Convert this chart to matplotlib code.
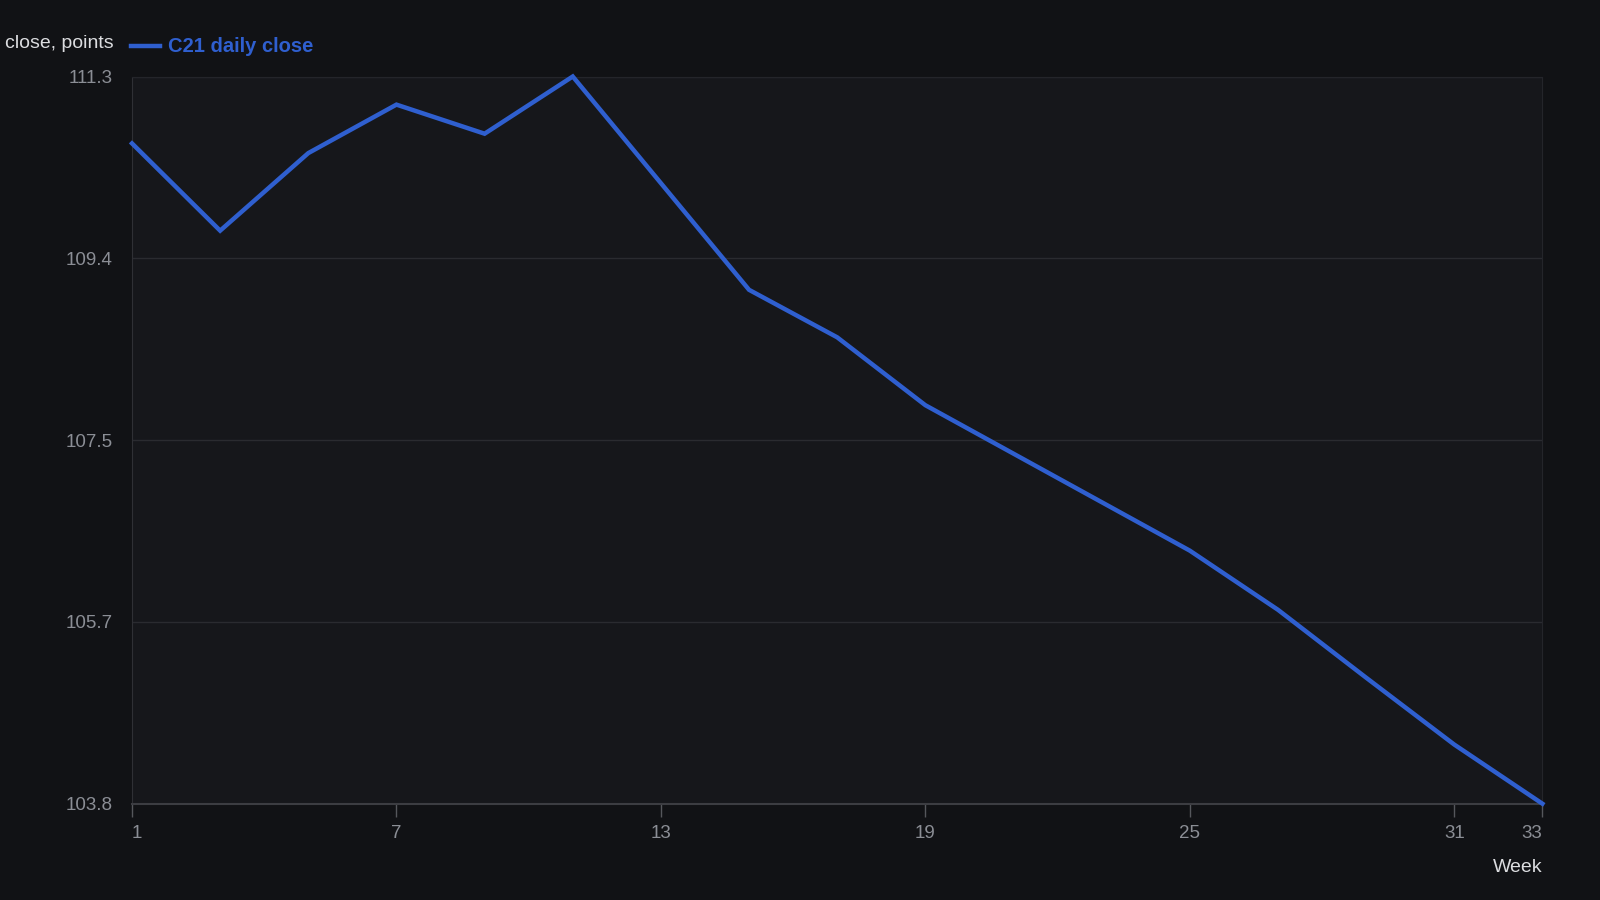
import numpy as np
import matplotlib
matplotlib.use("Agg")
import matplotlib.pyplot as plt

# weekly readings of the C21 daily close (points)
weeks = [1, 3, 5, 7, 9, 11, 13, 15, 17, 19, 21, 23, 25, 27, 29, 31, 33]
close = [110.61, 109.71, 110.51, 111.01, 110.71, 111.30, 110.20, 109.10, 108.61,
         107.91, 107.41, 106.91, 106.41, 105.80, 105.10, 104.41, 103.80]
ytick_vals = [103.8, 105.675, 107.55, 109.425, 111.3]
ytick_labels = ["103.8", "105.7", "107.5", "109.4", "111.3"]
xtick_vals = [1, 7, 13, 19, 25, 31, 33]

series_name = "C21 daily close"
y_title = "C21 daily close, points"
x_title = "Week"

bg = "#111215"
plot_bg = "#16171b"
line_col = "#2f5fcf"
tick_col = "#8b8e95"

plt.rcParams['font.family'] = ['Liberation Sans', 'DejaVu Sans']

fig = plt.figure(figsize=(16, 9), dpi=100, facecolor=bg)
ax = fig.add_axes([0.0825, 0.107, 0.8815, 0.808])
ax.set_facecolor(plot_bg)

ax.plot(weeks, close, color=line_col, lw=3.2, solid_joinstyle="miter", clip_on=False, zorder=3)

ax.set_xlim(1, 33)
ax.set_ylim(103.8, 111.3)
ax.set_yticks(ytick_vals)
ax.set_yticklabels(ytick_labels)
ax.set_xticks(xtick_vals)

ax.grid(axis="y", color="#2a2b30", lw=1)
ax.tick_params(axis="y", length=0, pad=14, labelsize=13.5, labelcolor=tick_col)
ax.tick_params(axis="x", length=9, width=1, color="#55575c", pad=6, labelsize=13.5, labelcolor=tick_col)

## first / last week labels are pulled inside the axis ends
xlabels = ax.get_xticklabels()
xlabels[0].set_ha("left")
xlabels[-1].set_ha("right")

for side in ["top", "right"]:
    ax.spines[side].set_color("#24252a")
ax.spines["left"].set_color("#2f3035")
ax.spines["bottom"].set_color("#3c3d42")
ax.spines["bottom"].set_linewidth(1.5)

# y axis title sits at the top-left, partly cut by the figure edge
fig.text(114 / 1600, 1 - 44 / 900, y_title, ha="right", va="center",
         fontsize=14, color="#dcdde0")

# legend: short line + bold series name
fig.add_artist(plt.Line2D([131 / 1600, 160 / 1600], [1 - 46 / 900, 1 - 46 / 900],
                          color=line_col, lw=3.2))
fig.text(168 / 1600, 1 - 46 / 900, series_name, ha="left", va="center",
         fontsize=14.5, fontweight="bold", color=line_col)

fig.text(1543 / 1600, 1 - 868 / 900, x_title, ha="right", va="center",
         fontsize=14, color="#dcdde0")

fig.savefig("out.png", dpi=100, facecolor=bg)
